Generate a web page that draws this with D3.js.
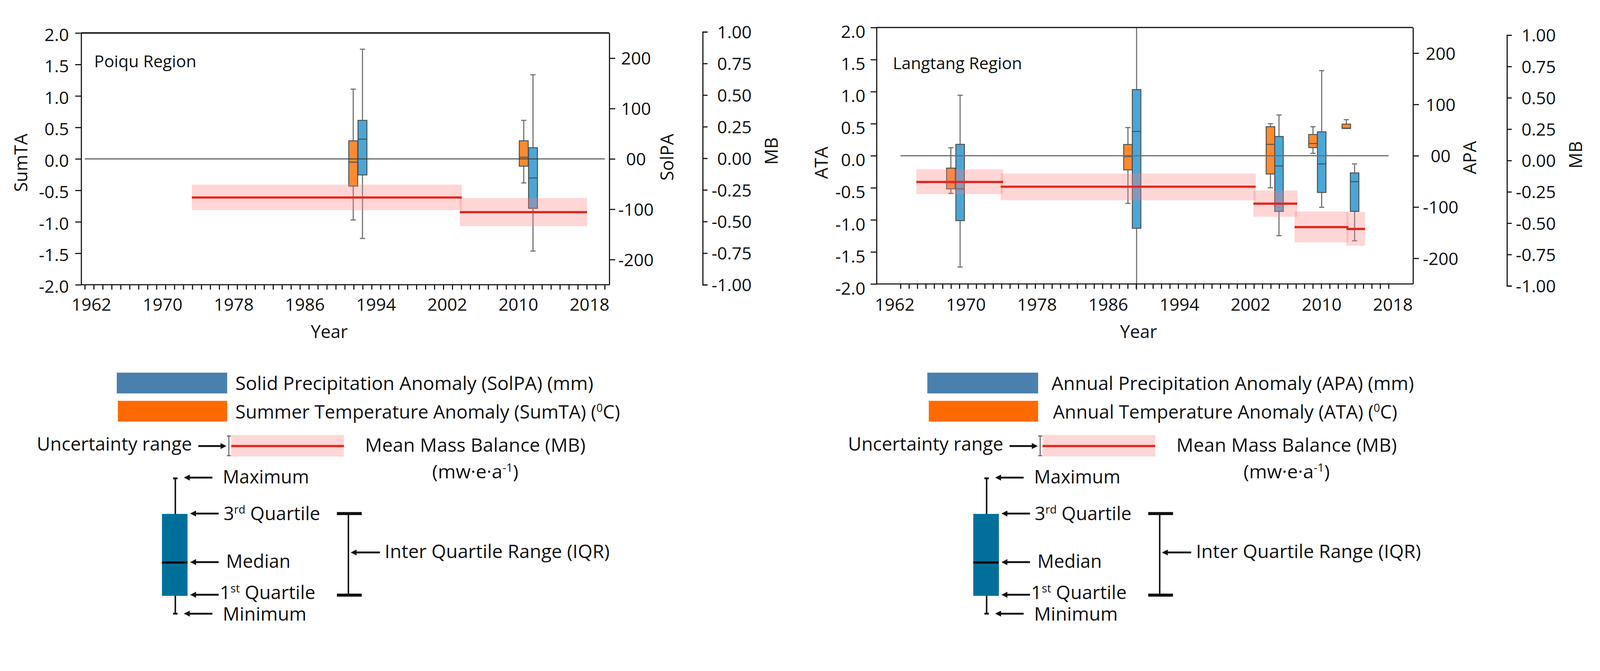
<!DOCTYPE html>
<html><head><meta charset="utf-8">
<script src="https://cdn.jsdelivr.net/npm/d3@7"></script>
<style>
html,body{margin:0;padding:0;background:#fff;overflow:hidden;width:100%;height:100%}
svg{display:block;background:#fff;width:100vw;height:100vh}
text{font-family:"Open Sans","DejaVu Sans",sans-serif;fill:#111}
</style>
</head><body>
<svg id="chart" viewBox="0 0 4317 1717" preserveAspectRatio="xMidYMin meet"></svg>
<script>
// ---------------- DATA ----------------
const xTickLabels = [1962, 1970, 1978, 1986, 1994, 2002, 2010, 2018];
const minorYears = d3.range(1961, 2020);
const tempTicks = [2.0, 1.5, 1.0, 0.5, 0.0, -0.5, -1.0, -1.5, -2.0];
const precTicks = [200, 100, 0, -100, -200];
const mbTicks = [1.00, 0.75, 0.50, 0.25, 0.00, -0.25, -0.50, -0.75, -1.00];

// Poiqu: Summer Temperature Anomaly (degC)
const poiquTemp = [
  {year: 1991.43, min: -0.97, q1: -0.433, med: -0.052, q3: 0.287, max: 1.108},
  {year: 2010.60, min: -0.382, q1: -0.116, med: 0.026, q3: 0.287, max: 0.612}
];
// Poiqu: Solid Precipitation Anomaly (mm)
const poiquPrec = [
  {year: 1992.47, min: -158, q1: -31.9, med: 39.2, q3: 76.5, max: 217.8},
  {year: 2011.64, min: -183, q1: -98.2, med: -37.9, q3: 22.2, max: 167.2}
];
// Poiqu: Mean Mass Balance (m w.e. a-1)
const poiquMB = [
  {start: 1973.29, end: 2003.64, mb: -0.310, lo: -0.410, hi: -0.208},
  {start: 2003.41, end: 2017.72, mb: -0.426, lo: -0.537, hi: -0.314}
];

// Langtang: Annual Temperature Anomaly (degC)
const langTemp = [
  {year: 1968.31, min: -0.588, q1: -0.517, med: -0.40, q3: -0.193, max: 0.125},
  {year: 1988.22, min: -0.743, q1: -0.22, med: -0.012, q3: 0.175, max: 0.44},
  {year: 2004.24, min: -0.50, q1: -0.285, med: 0.178, q3: 0.453, max: 0.50},
  {year: 2009.02, min: 0.037, q1: 0.127, med: 0.19, q3: 0.331, max: 0.453},
  {year: 2012.77, min: 0.426, q1: 0.426, med: 0.43, q3: 0.493, max: 0.563}
];
// Langtang: Annual Precipitation Anomaly (mm)
const langPrec = [
  {year: 1969.35, min: -217, q1: -126.5, med: -64.6, q3: 22.2, max: 118},
  {year: 1989.19, min: -262, q1: -141.4, med: 47.4, q3: 129, max: 250},
  {year: 2005.20, min: -155.8, q1: -108.5, med: -19.9, q3: 37.5, max: 79.5},
  {year: 2010.00, min: -100.5, q1: -71.6, med: -15.9, q3: 46.6, max: 165.8},
  {year: 2013.70, min: -165.8, q1: -108.5, med: -50.6, q3: -33.5, max: -15.9}
];
// Langtang: Mean Mass Balance
const langMB = [
  {start: 1964.43, end: 1974.19, mb: -0.171, lo: -0.268, hi: -0.071},
  {start: 1973.91, end: 2002.58, mb: -0.209, lo: -0.317, hi: -0.104},
  {start: 2002.32, end: 2007.25, mb: -0.344, lo: -0.449, hi: -0.239},
  {start: 2006.95, end: 2013.00, mb: -0.531, lo: -0.653, hi: -0.406},
  {start: 2012.78, end: 2014.87, mb: -0.546, lo: -0.680, hi: -0.411}
];

// ---------------- STYLE / LAYOUT ----------------
const C = {
  orange: "#ff8b30", blue: "#4ba6d6", boxEdge: "#4d4d4d", whisker: "#707070",
  shade: "rgba(255,128,128,0.32)", red: "#e3261f",
  legBlue: "#4a80ae", legOrange: "#ff6a00", legBox: "#00709b"
};
const FS = 47;

const panels = [
  {
    region: "Poiqu Region", tLabel: "SumTA", pLabel: "SolPA",
    temp: poiquTemp, prec: poiquPrec, mb: poiquMB,
    L: {left: 219, right: 1644, top: 89, bottom: 768,
        xDomain: [1960.846, 2020.22], tickRange: [228.7, 1631.6], mbRange: [768, 86],
        mbAxisX: 1896, mbLabelRight: 2028, precLabelCenter: 1716, leftLabelRight: 186, leftLabelDy: 4,
        boxW: 1.0, regionX: 254, regionY: 181, yearX: 888.5,
        tLabelX: 74, tLabelY: 439, pLabelX: 1817, pLabelY: 424, mbLabelX: 2098, mbLabelY: 407.5,
        zeroColor: "#3a3a3a", zeroW: 2.4, topW: 4.5}
  },
  {
    region: "Langtang Region", tLabel: "ATA", pLabel: "APA",
    temp: langTemp, prec: langPrec, mb: langMB,
    L: {left: 2365, right: 3812.5, top: 74.2, bottom: 765.8,
        xDomain: [1959.954, 2020.267], tickRange: [2429.7, 3746.5], mbRange: [771, 94.7],
        mbAxisX: 4066, mbLabelRight: 4198, precLabelCenter: 3887, leftLabelRight: 2335, leftLabelDy: 11,
        boxW: 0.96, regionX: 2409, regionY: 186.5, yearX: 3072,
        tLabelX: 2233, tLabelY: 439, pLabelX: 3983, pLabelY: 425, mbLabelX: 4268, mbLabelY: 417.6,
        zeroColor: "#6e6e6e", zeroW: 3, topW: 3.5}
  }
];

const fmtT = v => (v < 0 ? "-" : "") + Math.abs(v).toFixed(1);
const fmtP = v => v === 0 ? "00" : (v < 0 ? "-" : "") + Math.abs(v);
const fmtM = v => (v < 0 ? "-" : "") + Math.abs(v).toFixed(2);

const svg = d3.select("#chart");

function styleAxis(g, sw) {
  g.attr("font-family", null).attr("font-size", null);
  g.selectAll(".tick line").attr("stroke", "#111").attr("stroke-width", sw);
  g.selectAll(".domain").attr("stroke", "#111").attr("stroke-width", sw);
  g.selectAll("text").attr("font-size", FS).attr("fill", "#111");
}

panels.forEach(p => {
  const L = p.L;
  const g = svg.append("g");
  const x = d3.scaleLinear().domain(L.xDomain).range([L.left, L.right]);
  const xt = d3.scaleLinear().domain([1961, 2019]).range(L.tickRange);
  const yT = d3.scaleLinear().domain([-2, 2]).range([L.bottom, L.top]);
  const yP = d3.scaleLinear().domain([-250, 250]).range([L.bottom, L.top]);
  const yM = d3.scaleLinear().domain([-1, 1]).range(L.mbRange);
  const bw = x(L.xDomain[0] + L.boxW) - x(L.xDomain[0]);

  function drawBoxes(data, y, fill) {
    const gb = g.append("g");
    data.forEach(d => {
      const cx = x(d.year);
      const topV = Math.min(y.domain()[1], d.max);
      gb.append("line").attr("x1", cx).attr("x2", cx)
        .attr("y1", y(topV)).attr("y2", y(d.min))
        .attr("stroke", C.whisker).attr("stroke-width", 3);
      if (d.max < y.domain()[1])
        gb.append("line").attr("x1", cx - 7).attr("x2", cx + 7).attr("y1", y(d.max)).attr("y2", y(d.max))
          .attr("stroke", C.whisker).attr("stroke-width", 3);
      if (d.min > y.domain()[0])
        gb.append("line").attr("x1", cx - 7).attr("x2", cx + 7).attr("y1", y(d.min)).attr("y2", y(d.min))
          .attr("stroke", C.whisker).attr("stroke-width", 3);
      gb.append("rect").attr("x", cx - bw / 2).attr("width", bw)
        .attr("y", y(d.q3)).attr("height", Math.max(2, y(d.q1) - y(d.q3)))
        .attr("fill", fill).attr("stroke", C.boxEdge).attr("stroke-width", 2.5);
      gb.append("line").attr("x1", cx - bw / 2).attr("x2", cx + bw / 2)
        .attr("y1", y(d.med)).attr("y2", y(d.med))
        .attr("stroke", "#4a4a4a").attr("stroke-width", 2.5);
    });
  }
  drawBoxes(p.temp, yT, C.orange);
  drawBoxes(p.prec, yP, C.blue);

  g.append("line").attr("x1", xt(1961)).attr("x2", xt(2019))
    .attr("y1", yT(0)).attr("y2", yT(0))
    .attr("stroke", L.zeroColor).attr("stroke-width", L.zeroW);

  g.append("g").selectAll("rect").data(p.mb).join("rect")
    .attr("x", d => x(d.start)).attr("width", d => x(d.end) - x(d.start))
    .attr("y", d => yM(d.hi)).attr("height", d => yM(d.lo) - yM(d.hi))
    .attr("fill", C.shade);
  g.append("g").selectAll("line").data(p.mb).join("line")
    .attr("x1", d => x(d.start)).attr("x2", d => x(d.end))
    .attr("y1", d => yM(d.mb)).attr("y2", d => yM(d.mb))
    .attr("stroke", C.red).attr("stroke-width", 6);

  g.append("line").attr("x1", L.left).attr("x2", L.right).attr("y1", L.top).attr("y2", L.top)
    .attr("stroke", "#222").attr("stroke-width", L.topW);
  g.append("line").attr("x1", L.left).attr("x2", L.right).attr("y1", L.bottom).attr("y2", L.bottom)
    .attr("stroke", "#111").attr("stroke-width", 3);

  const ga = g.append("g").attr("transform", `translate(${L.left},0)`)
    .call(d3.axisLeft(yT).tickValues(tempTicks).tickFormat(fmtT).tickSize(16).tickSizeOuter(0));
  styleAxis(ga, 3);
  ga.selectAll("text").attr("x", -(L.left - L.leftLabelRight)).attr("dy", "0.36em")
    .attr("transform", `translate(0,${L.leftLabelDy})`);

  const gp = g.append("g").attr("transform", `translate(${L.right},0)`)
    .call(d3.axisRight(yP).tickValues(precTicks).tickFormat(fmtP).tickSize(16).tickSizeOuter(0));
  styleAxis(gp, 3);
  gp.selectAll("text").attr("x", L.precLabelCenter - L.right).attr("text-anchor", "middle").attr("dy", "0.36em");

  const gm = g.append("g").attr("transform", `translate(${L.mbAxisX},0)`)
    .call(d3.axisRight(yM).tickValues(mbTicks).tickFormat(fmtM).tickSize(13).tickSizeOuter(13));
  styleAxis(gm, 3);
  gm.selectAll("text").attr("x", L.mbLabelRight - L.mbAxisX).attr("text-anchor", "end").attr("dy", "0.36em");

  const gx = g.append("g").attr("transform", `translate(0,${L.bottom})`)
    .call(d3.axisBottom(xt).tickValues(minorYears).tickFormat("").tickSize(13).tickSizeOuter(0));
  styleAxis(gx, 3);
  gx.select(".domain").remove();

  g.append("g").selectAll("text").data(xTickLabels).join("text")
    .attr("x", d => x(d)).attr("y", 838).attr("text-anchor", "middle")
    .attr("font-size", FS).text(d => d);

  g.append("text").attr("x", L.regionX).attr("y", L.regionY).attr("font-size", 45).text(p.region);
  g.append("text").attr("x", L.yearX).attr("y", 912).attr("text-anchor", "middle").attr("font-size", 48).text("Year");
  [[p.tLabel, L.tLabelX, L.tLabelY], [p.pLabel, L.pLabelX, L.pLabelY], ["MB", L.mbLabelX, L.mbLabelY]]
    .forEach(([t, tx, ty]) => g.append("text")
      .attr("transform", `translate(${tx},${ty}) rotate(-90)`)
      .attr("text-anchor", "middle").attr("font-size", 48).text(t));
});

// ---------------- LEGENDS ----------------
const LF = 50;
function rich(sel, xx, yy, parts, size, width) {
  const t = sel.append("text").attr("x", xx).attr("y", yy).attr("font-size", size);
  let pend = 0;
  parts.forEach(pt => {
    if (typeof pt === "string") {
      const s = t.append("tspan").text(pt);
      if (pend) { s.attr("dy", pend); pend = 0; }
    } else {
      t.append("tspan").attr("dy", -size * 0.36).attr("font-size", size * 0.6).text(pt.sup);
      pend = size * 0.36;
    }
  });
  if (width) t.attr("textLength", width).attr("lengthAdjust", "spacingAndGlyphs");
  return t;
}
function arrowLeft(sel, x1, x2, y) {
  sel.append("line").attr("x1", x1).attr("x2", x2 + 12).attr("y1", y).attr("y2", y)
    .attr("stroke", "#111").attr("stroke-width", 5);
  sel.append("path").attr("d", `M${x2},${y} L${x2 + 16},${y - 8} L${x2 + 16},${y + 8} Z`).attr("fill", "#111");
}
function arrowRight(sel, x1, x2, y) {
  sel.append("line").attr("x1", x1).attr("x2", x2 - 12).attr("y1", y).attr("y2", y)
    .attr("stroke", "#111").attr("stroke-width", 5);
  sel.append("path").attr("d", `M${x2},${y} L${x2 - 16},${y - 8} L${x2 - 16},${y + 8} Z`).attr("fill", "#111");
}

const legends = [
  {dx: 0, r1: 315, r2: 318, rEnd: 613,
   t1: ["Solid Precipitation Anomaly (SolPA) (mm)"], t1x: 635, t1w: 966,
   t2: ["Summer Temperature Anomaly (SumTA) (", {sup: "0"}, "C)"], t2x: 635, t2w: 1038},
  {dx: 2189, r1: 2502, r2: 2506, rEnd: 2801,
   t1: ["Annual Precipitation Anomaly (APA) (mm)"], t1x: 2837, t1w: 978,
   t2: ["Annual Temperature Anomaly (ATA) (", {sup: "0"}, "C)"], t2x: 2841, t2w: 929}
];

legends.forEach(lg => {
  const g = svg.append("g");
  const dx = lg.dx;
  g.append("rect").attr("x", lg.r1).attr("y", 1005).attr("width", lg.rEnd - lg.r1).attr("height", 56).attr("fill", C.legBlue);
  g.append("rect").attr("x", lg.r2).attr("y", 1081).attr("width", lg.rEnd - lg.r2).attr("height", 56).attr("fill", C.legOrange);
  rich(g, lg.t1x, 1052, lg.t1, LF, lg.t1w);
  rich(g, lg.t2x, 1129, lg.t2, LF, lg.t2w);

  const h = svg.append("g").attr("transform", `translate(${dx},0)`);
  rich(h, 99, 1215, ["Uncertainty range"], LF, 419);
  arrowRight(h, 535, 611, 1203);
  h.append("rect").attr("x", 624).attr("y", 1173).attr("width", 304).attr("height", 58).attr("fill", C.shade);
  h.append("line").attr("x1", 624).attr("x2", 928).attr("y1", 1203).attr("y2", 1203).attr("stroke", C.red).attr("stroke-width", 6);
  h.append("path").attr("d", "M612,1176 H623 M617.5,1176 V1229 M612,1229 H623")
    .attr("stroke", "#555").attr("stroke-width", 2.5).attr("fill", "none");
  rich(h, 985, 1218, ["Mean Mass Balance (MB)"], LF, 595);
  rich(h, 1166, 1290, ["(mw\u00b7e\u00b7a", {sup: "-1"}, ")"], LF, 233);

  h.append("line").attr("x1", 473).attr("x2", 473).attr("y1", 1290).attr("y2", 1655).attr("stroke", "#111").attr("stroke-width", 4);
  h.append("line").attr("x1", 467).attr("x2", 479).attr("y1", 1290).attr("y2", 1290).attr("stroke", "#111").attr("stroke-width", 5);
  h.append("line").attr("x1", 467).attr("x2", 479).attr("y1", 1655).attr("y2", 1655).attr("stroke", "#111").attr("stroke-width", 5);
  h.append("rect").attr("x", 437).attr("y", 1386).attr("width", 69).attr("height", 221).attr("fill", C.legBox);
  h.append("line").attr("x1", 437).attr("x2", 506).attr("y1", 1517).attr("y2", 1517).attr("stroke", "#0a0a0a").attr("stroke-width", 6);

  arrowLeft(h, 573, 496, 1288);
  arrowLeft(h, 590, 513, 1385);
  arrowLeft(h, 590, 513, 1516);
  arrowLeft(h, 590, 513, 1604);
  arrowLeft(h, 573, 496, 1655);
  rich(h, 601, 1304, ["Maximum"], LF, 233);
  rich(h, 603, 1403, ["3", {sup: "rd"}, " Quartile"], LF, 261);
  rich(h, 610, 1531, ["Median"], LF, 174);
  rich(h, 593, 1616, ["1", {sup: "st"}, " Quartile"], LF, 258);
  rich(h, 601, 1674, ["Minimum"], LF, 226);

  h.append("line").attr("x1", 940).attr("x2", 940).attr("y1", 1385).attr("y2", 1605).attr("stroke", "#111").attr("stroke-width", 4);
  h.append("line").attr("x1", 909).attr("x2", 976).attr("y1", 1385).attr("y2", 1385).attr("stroke", "#111").attr("stroke-width", 8);
  h.append("line").attr("x1", 909).attr("x2", 976).attr("y1", 1605).attr("y2", 1605).attr("stroke", "#111").attr("stroke-width", 8);
  arrowLeft(h, 1025, 946, 1490);
  rich(h, 1038, 1505, ["Inter Quartile Range (IQR)"], LF, 607);
});
</script>
</body></html>
